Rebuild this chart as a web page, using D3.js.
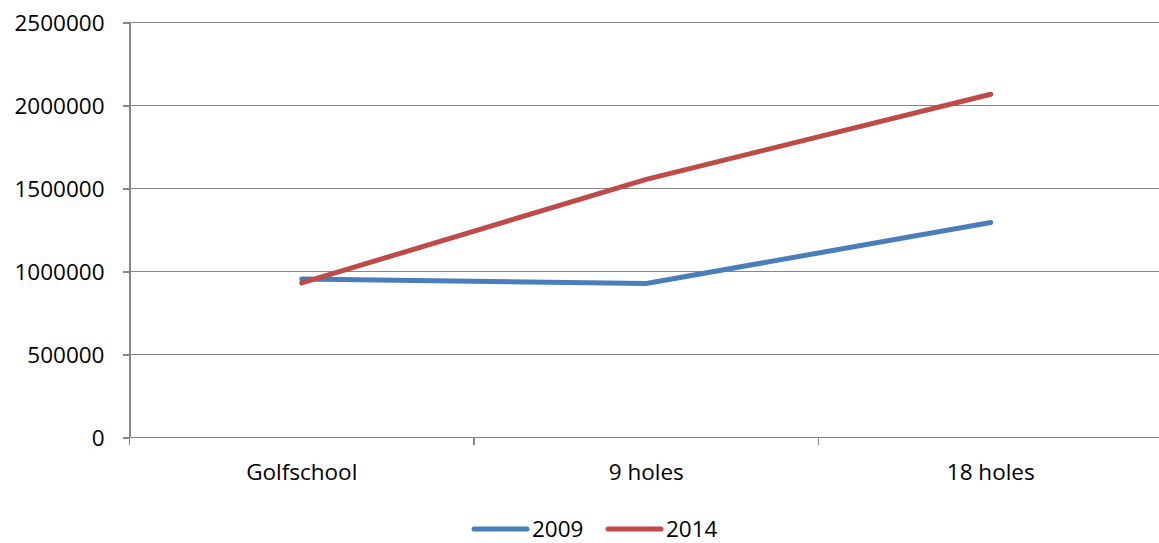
<!DOCTYPE html>
<meta charset="utf-8">
<style>
body { margin: 0; background: white; }
svg text { font-family: "Open Sans", Arial, sans-serif; fill: #000; }
.grid line { stroke: #868686; stroke-width: 1.3px; shape-rendering: crispEdges; }
.axis path, .axis line { stroke: #868686; stroke-width: 1.3px; fill: none; shape-rendering: crispEdges; }
.serie { fill: none; stroke-width: 5px; stroke-linecap: round; stroke-linejoin: round; }
</style>
<body>
<svg width="1159" height="543"></svg>
<script src="https://d3js.org/d3.v7.min.js"></script>
<script>
// data
var categories = ["Golfschool", "9 holes", "18 holes"];
var years = ["2009", "2014"];
var values2009 = [955000, 928000, 1295000];
var values2014 = [931000, 1555000, 2068000];
var yTicks = [0, 500000, 1000000, 1500000, 2000000, 2500000];
var colors = ["#4a7ebb", "#be4b48"];

var series = [
  {name: years[0], values: values2009, color: colors[0]},
  {name: years[1], values: values2014, color: colors[1]}
];

var plotL = 129.5, plotR = 1163, plotT = 22.5, plotB = 437.5;
var fs = "22.5px";

var svg = d3.select("svg");

var x = d3.scaleBand().domain(categories).range([plotL, plotR]);
var y = d3.scaleLinear().domain([0, 2500000]).range([plotB, plotT]);

// horizontal gridlines
svg.append("g").attr("class", "grid")
  .selectAll("line").data(yTicks.slice(1)).enter().append("line")
    .attr("x1", plotL).attr("x2", plotR)
    .attr("y1", function(d) { return y(d); })
    .attr("y2", function(d) { return y(d); });

// y axis
var yAxis = svg.append("g").attr("class", "axis")
  .attr("transform", "translate(" + plotL + ",0)")
  .call(d3.axisLeft(y).tickValues(yTicks).tickSize(7).tickSizeOuter(0).tickPadding(18).tickFormat(d3.format("d")));
yAxis.selectAll("text").style("font-size", fs).attr("dy", "0.35em");

// x axis with tick marks at band boundaries
var xAxis = svg.append("g").attr("class", "axis")
  .attr("transform", "translate(0," + plotB + ")");
xAxis.append("line").attr("x1", plotL - 7).attr("x2", plotR);
xAxis.selectAll(".tk").data(categories).enter().append("line").attr("class", "tk")
  .attr("x1", function(d) { return x(d); }).attr("x2", function(d) { return x(d); })
  .attr("y1", 0).attr("y2", 7);
xAxis.selectAll("text").data(categories).enter().append("text")
  .attr("x", function(d) { return x(d) + x.bandwidth() / 2; })
  .attr("y", 35)
  .attr("dy", "0.35em")
  .attr("text-anchor", "middle")
  .style("font-size", fs)
  .text(function(d) { return d; });

// lines
var line = d3.line()
  .x(function(d, i) { return x(categories[i]) + x.bandwidth() / 2; })
  .y(function(d) { return y(d); });

svg.selectAll(".serie").data(series).enter().append("path")
  .attr("class", "serie")
  .attr("stroke", function(d) { return d.color; })
  .attr("d", function(d) { return line(d.values); });

// legend
var legend = svg.append("g").attr("transform", "translate(473,529)");
var item = legend.selectAll("g").data(series).enter().append("g")
  .attr("transform", function(d, i) { return "translate(" + (i * 134) + ",0)"; });
item.append("line")
  .attr("x1", 1).attr("x2", 54).attr("y1", 0).attr("y2", 0)
  .attr("stroke", function(d) { return d.color; })
  .attr("stroke-width", 5).attr("stroke-linecap", "round");
item.append("text")
  .attr("x", 59).attr("dy", "0.35em")
  .style("font-size", fs)
  .text(function(d) { return d.name; });
</script>
</body>
